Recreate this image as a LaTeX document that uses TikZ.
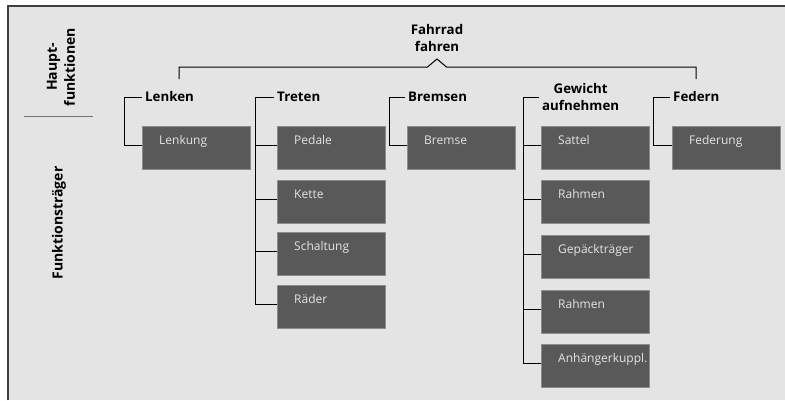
\documentclass[tikz,border=0pt]{standalone}
\usepackage{fontspec}
\setmainfont{Open Sans}
\usetikzlibrary{positioning,calc}
\definecolor{panel}{HTML}{E4E4E4}
\definecolor{boxgray}{HTML}{595959}
\definecolor{boxtext}{HTML}{E4E4E4}

\begin{document}
\begin{tikzpicture}[x=1pt,y=-1pt,
  mainfct/.style = {font=\bfseries\fontsize{13.3}{17.5}\selectfont, align=center, inner sep=3pt},
  sidelabel/.style = {font=\bfseries\fontsize{14}{18}\selectfont, align=center, rotate=90},
  carrier/.style = {shape=rectangle, anchor=north west,
    draw=black!45, fill=boxgray, text=boxtext,
    font=\fontsize{12}{13}\selectfont, align=left,
    text width=74pt, inner xsep=17pt, inner ysep=4pt,
    text height=14pt, text depth=21pt},
  line/.style={draw, line width=1pt, color=black}
  ]
  \useasboundingbox (0,0) rectangle (785,400);
  % panel
  \fill[panel] (8,6) rectangle (785,400);
  \draw[black!75, line width=1.2pt] (8,400) -- (8,6) -- (785,6);

  % left column
  \node[sidelabel] (haupt) at (61,67) {Haupt-\\funktionen};
  \draw[black!55, line width=0.9pt] (24,116) -- (93,116);
  \node[sidelabel] (traeger) at (59,223) {Funktionsträger};

  % main function and sub functions
  \node[mainfct] (fahrrad) at (437,38) {Fahrrad\\fahren};
  \coordinate (peak) at (437,59);
  \node[mainfct, anchor=west] (lenken) at (142,97) {Lenken};
  \node[mainfct, anchor=west] (treten) at (274,97) {Treten};
  \node[mainfct, anchor=west] (bremsen) at (405,97) {Bremsen};
  \node[mainfct, anchor=west] (gewicht) at (539,97) {Gewicht\\aufnehmen};
  \node[mainfct, anchor=west] (federn) at (670,97) {Federn};
  \coordinate (hl) at (179,79);
  \coordinate (hr) at (696,79);

  % carriers
  \node[carrier] (lenkung) at (142,126) {Lenkung};
  \node[carrier] (pedale) at (277,126) {Pedale};
  \node[carrier] (kette) at (277,180) {Kette};
  \node[carrier] (schaltung) at (277,232) {Schaltung};
  \node[carrier] (raeder) at (277,285) {Räder};
  \node[carrier] (bremse) at (407,126) {Bremse};
  \node[carrier] (sattel) at (541,126) {Sattel};
  \node[carrier] (rahmen) at (541,180) {Rahmen};
  \node[carrier] (gepaeck) at (541,235) {Gepäckträger};
  \node[carrier] (rahmenb) at (541,290) {Rahmen};
  \node[carrier] (kupplung) at (541,344) {Anhängerkuppl.};
  \node[carrier] (federung) at (672,126) {Federung};

  % connectors
  \draw[line] (hl) |- ([xshift=-9.5pt,yshift=-8pt]peak) -- (peak)
    -- ([xshift=9.5pt,yshift=-8pt]peak) -| (hr);
  \draw[line] (lenken.west) -| ($(lenkung.west)+(-18,-2.5)$) -- ($(lenkung.west)+(0,-2.5)$);
  \draw[line] (treten.west) -| ($(raeder.west)+(-22,-2.5)$) -- ($(raeder.west)+(0,-2.5)$);
  \foreach \b in {pedale,kette,schaltung}
    \draw[line] ($(\b.west)+(-22,-2.5)$) -- ($(\b.west)+(0,-2.5)$);
  \draw[line] (bremsen.west) -| ($(bremse.west)+(-18,-2.5)$) -- ($(bremse.west)+(0,-2.5)$);
  \draw[line] (gewicht.west) -| ($(kupplung.west)+(-18,-2.5)$) -- ($(kupplung.west)+(0,-2.5)$);
  \foreach \b in {sattel,rahmen,gepaeck,rahmenb}
    \draw[line] ($(\b.west)+(-18,-2.5)$) -- ($(\b.west)+(0,-2.5)$);
  \draw[line] (federn.west) -| ($(federung.west)+(-19,-2.5)$) -- ($(federung.west)+(0,-2.5)$);
\end{tikzpicture}
\end{document}
